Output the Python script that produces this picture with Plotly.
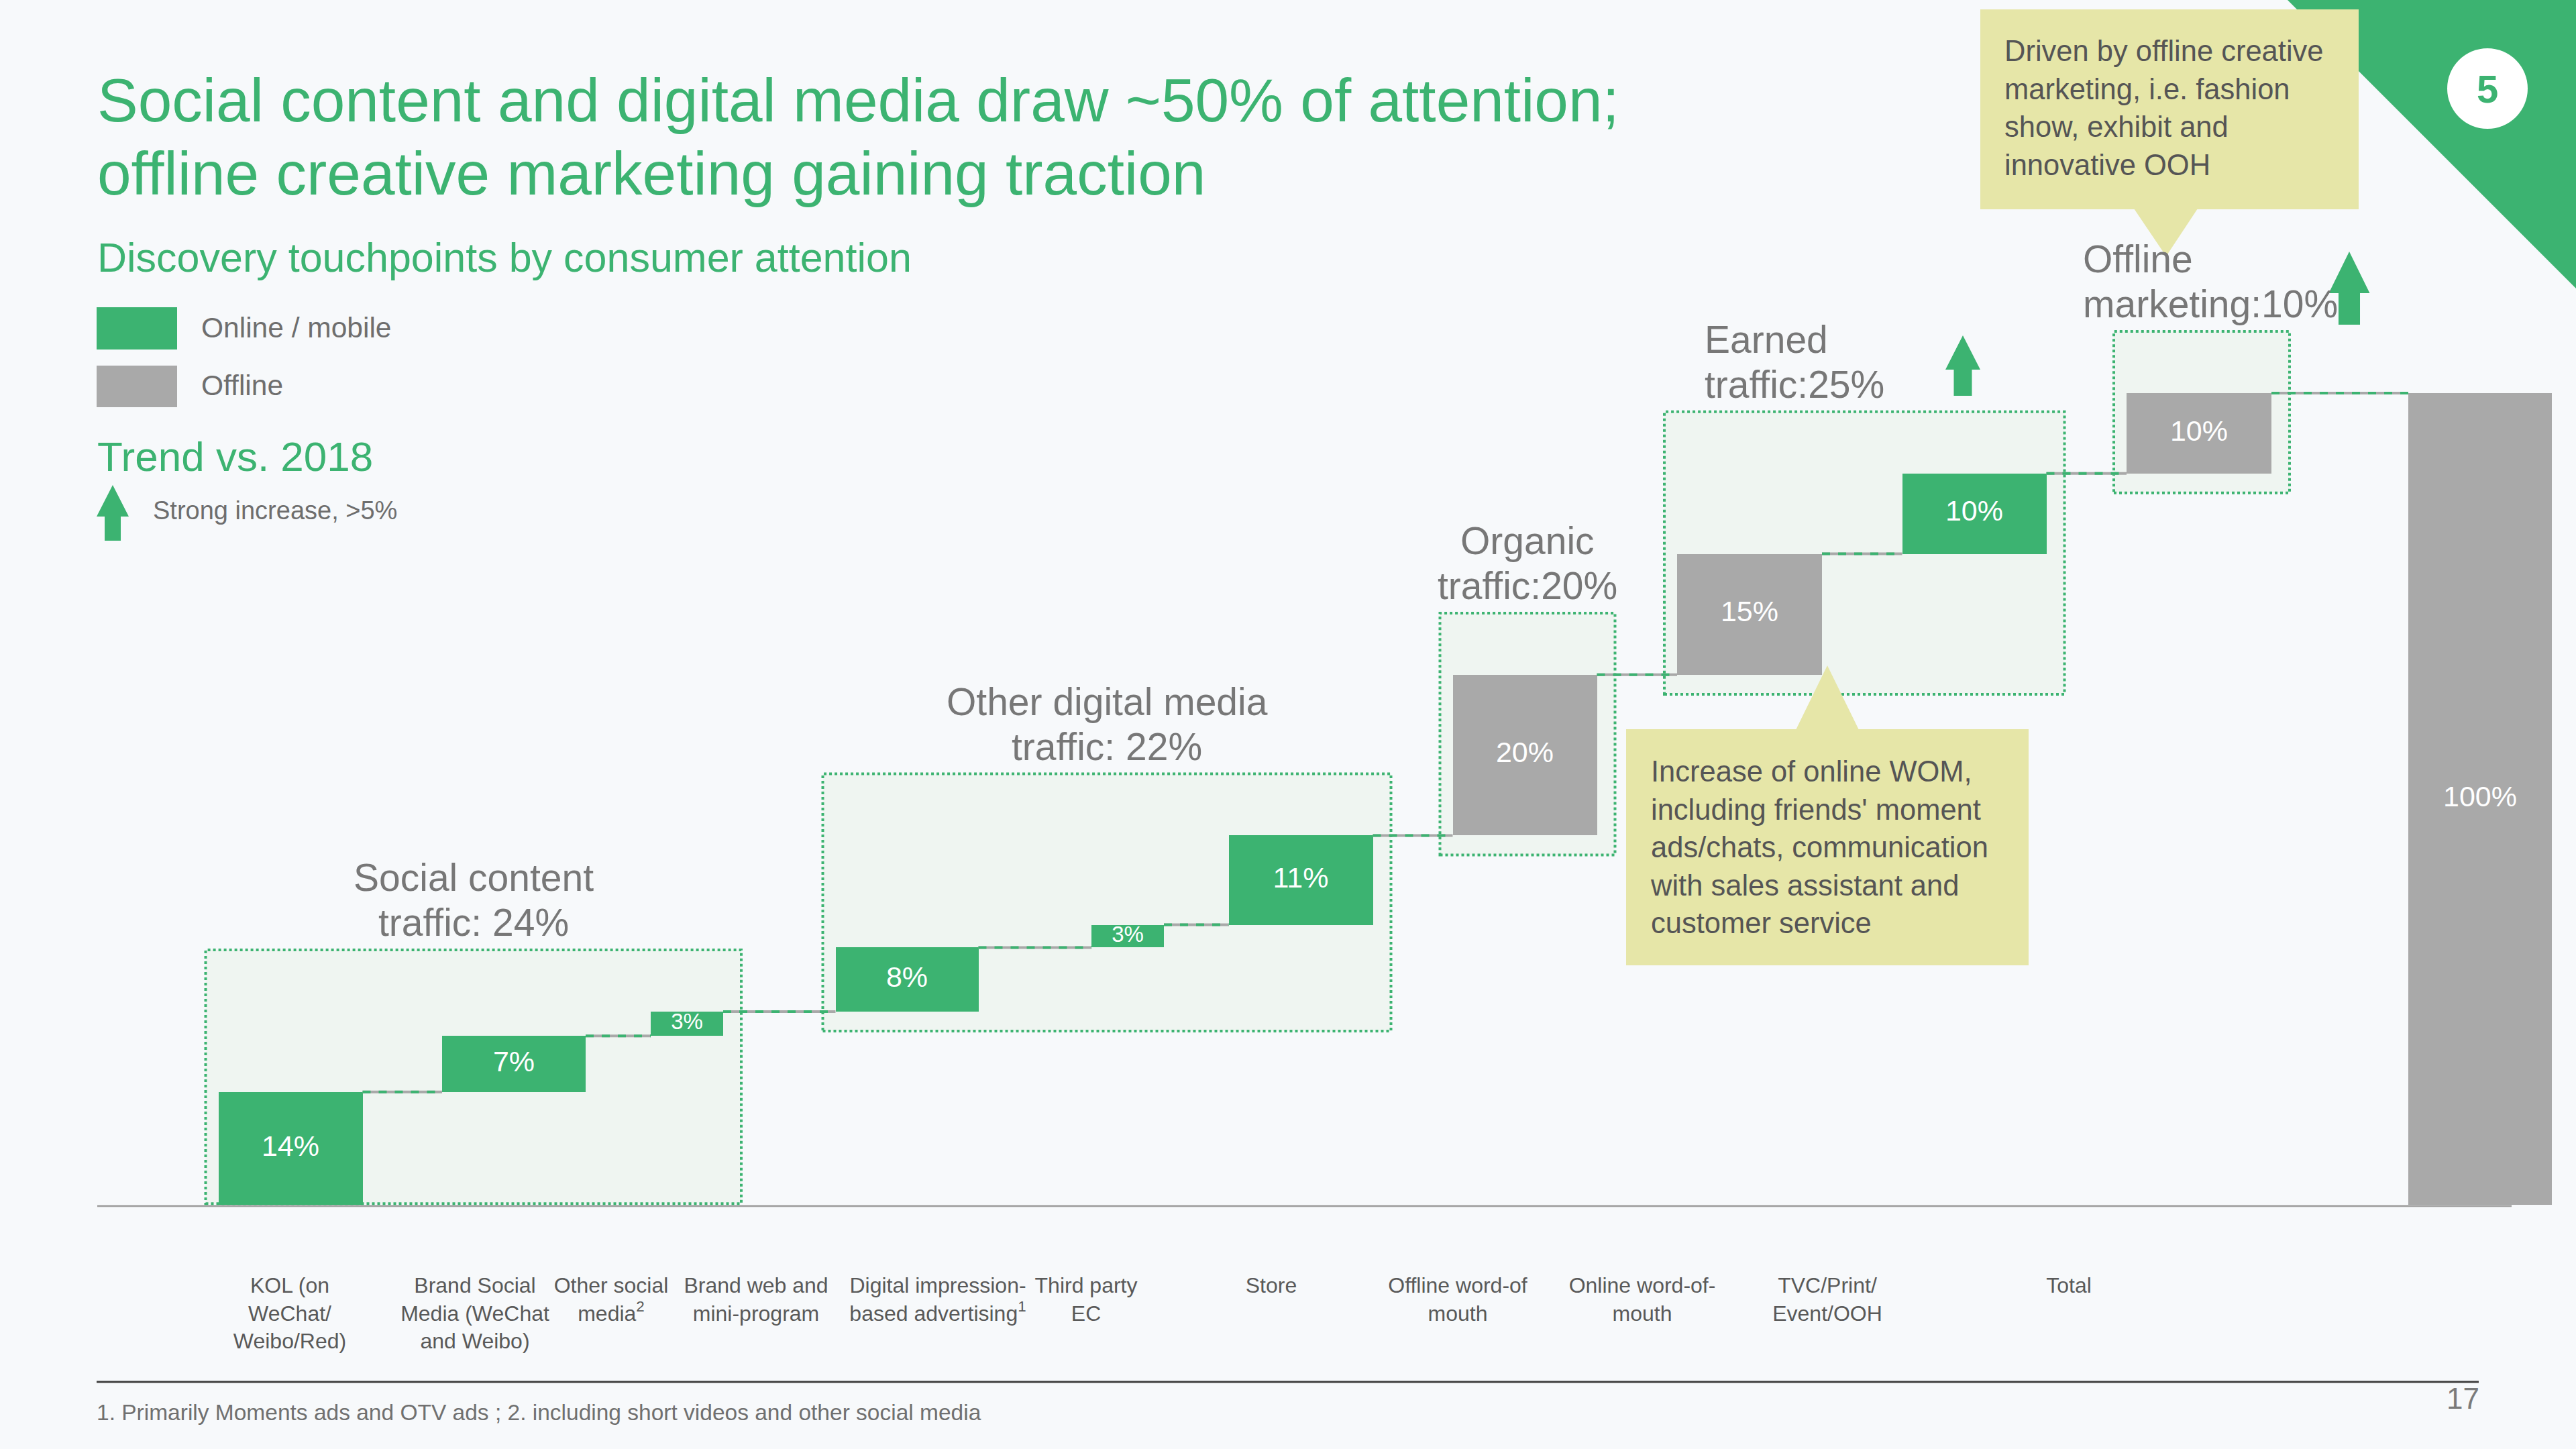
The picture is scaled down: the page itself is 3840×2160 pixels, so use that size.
import plotly.graph_objects as go

# ---------------- data ----------------
categories = [
    "KOL (on<br>WeChat/<br>Weibo/Red)",
    "Brand Social<br>Media (WeChat<br>and Weibo)",
    "Other social<br>media<sup>2</sup>",
    "Brand web and<br>mini-program",
    "Digital impression-<br>based advertising<sup>1</sup>",
    "Third party<br>EC",
    "Store",
    "Offline word-of<br>mouth",
    "Online word-of-<br>mouth",
    "TVC/Print/<br>Event/OOH",
    "Total",
]
shares = [13.9, 6.9, 3.0, 7.9, 2.8, 11.0, 19.8, 14.9, 9.9, 9.9]   # % of consumer attention
total_share = 100
channel_type = ["online", "online", "online", "online", "online", "online",
                "offline", "offline", "online", "offline"]
group_names = [("Social content", "traffic: {}%"),
               ("Other digital media", "traffic: {}%"),
               ("Organic", "traffic:{}%"),
               ("Earned", "traffic:{}%"),
               ("Offline", "marketing:{}%")]
group_members = [[0, 1, 2], [3, 4, 5], [6], [7, 8], [9]]

title_lines = ["Social content and digital media draw ~50% of attention;",
               "offline creative marketing gaining traction"]
subtitle = "Discovery touchpoints by consumer attention"
legend_labels = ["Online / mobile", "Offline"]
callout_offline = "Driven by offline creative<br>marketing, i.e. fashion<br>show, exhibit and<br>innovative OOH"
callout_wom = ("Increase of online WOM,<br>including friends' moment<br>ads/chats, communication"
               "<br>with sales assistant and<br>customer service")
footnote = "1. Primarily Moments ads and OTV ads ; 2. including short videos and other social media"
page_no = "17"
section_no = "5"

# ---------------- layout (positions in layout units = px) ----------------
bar_center = [433, 766, 1024, 1352, 1681, 1939, 2273, 2608, 2943, 3278, 3697]
bar_width = [215, 214, 108, 213, 108, 215, 215, 216, 215, 216, 214]
label_x = [432, 708, 911, 1127, 1398, 1619, 1895, 2173, 2448, 2724, 3084]
group_label_align = ["center", "center", "center", "left", "left"]
group_label_left = [None, None, None, 2539, 3103]

W, H = 3840, 2160
PLOT_H = 1800
Y0_PX = 1796
PX_PER_UNIT = 12.1
YMIN = (Y0_PX - PLOT_H) / PX_PER_UNIT
YMAX = Y0_PX / PX_PER_UNIT

GREEN = "#3CB371"
GRAY = "#A9A9A9"
BOX_FILL = "#EFF5F1"
BG = "#F7F9FB"
CALLOUT = "#E6E6A8"
FONT = "Arial, Liberation Sans, Helvetica, sans-serif"


def px(x):
    return x / W


def py(y):
    return (PLOT_H - y) / PLOT_H


def v2px(v):
    return Y0_PX - v * PX_PER_UNIT


def center_from_baseline(baseline, fs):
    return baseline - 0.3465 * fs


# ---------------- derived waterfall geometry ----------------
vals = shares + [total_share]
types = channel_type + ["total"]
bases = []
run = 0.0
for v in shares:
    bases.append(run)
    run += v
bases.append(0.0)
tops = [b + v for b, v in zip(bases, vals)]
color_map = {"online": GREEN, "offline": GRAY, "total": GRAY}

fig = go.Figure()

fig.add_trace(go.Bar(
    x=bar_center, y=vals, base=bases, width=bar_width,
    marker=dict(color=[color_map[t] for t in types], line=dict(width=0)),
    hoverinfo="skip", showlegend=False,
))

cx, cy = [], []
for i in range(len(vals) - 1):
    x0 = bar_center[i] + bar_width[i] / 2
    x1 = bar_center[i + 1] - bar_width[i + 1] / 2
    cx += [x0, x1, None]
    cy += [tops[i], tops[i], None]
fig.add_trace(go.Scatter(x=cx, y=cy, mode="lines", line=dict(color=GRAY, width=4),
                         hoverinfo="skip", showlegend=False))
fig.add_trace(go.Scatter(x=cx, y=cy, mode="lines",
                         line=dict(color=GREEN, width=4, dash="12px,12px"),
                         hoverinfo="skip", showlegend=False))

fig.add_trace(go.Scatter(
    x=bar_center, y=[b + v / 2 for b, v in zip(bases, vals)], mode="text",
    text=[f"{round(v)}%" for v in vals],
    textfont=dict(color="white", family=FONT, size=[33 if w < 150 else 43 for w in bar_width]),
    hoverinfo="skip", showlegend=False,
))

shapes = []
annotations = []

# baseline
shapes.append(dict(type="line", xref="x", yref="y", x0=145, x1=3744, y0=-0.15, y1=-0.15,
                   line=dict(color="#A6A6A6", width=3), layer="below"))

# group boxes and labels
PAD_L, PAD_R, PAD_T, PAD_B = 19, 27, 7.6, 2.4
for gi, members in enumerate(group_members):
    f, l = members[0], members[-1]
    x0 = bar_center[f] - bar_width[f] / 2 - PAD_L
    x1 = bar_center[l] + bar_width[l] / 2 + PAD_R
    y0 = max(bases[f] - PAD_B, 0.15)
    y1 = tops[l] + PAD_T
    shapes.append(dict(type="rect", xref="x", yref="y", x0=x0, x1=x1, y0=y0, y1=y1,
                       fillcolor=BOX_FILL, line=dict(color=GREEN, width=4, dash="dot"),
                       layer="below"))
    total = sum(round(vals[m]) for m in members)
    line1, fmt = group_names[gi]
    line2 = fmt.format(total)
    base2 = v2px(y1) - 21
    base1 = base2 - 67
    if group_label_align[gi] == "center":
        ax, xa = (x0 + x1) / 2, "center"
    else:
        ax, xa = group_label_left[gi], "left"
    for txt, bl in ((line1, base1), (line2, base2)):
        annotations.append(dict(text=txt, xref="x", yref="paper", x=ax,
                                y=py(center_from_baseline(bl, 57)), xanchor=xa, yanchor="middle",
                                showarrow=False, font=dict(family=FONT, size=57, color="#777777")))


def arrow_path(cxp, top, bottom, head_w, head_h, stem_w):
    pts = [(cxp, top), (cxp + head_w / 2, top + head_h), (cxp + stem_w / 2, top + head_h),
           (cxp + stem_w / 2, bottom), (cxp - stem_w / 2, bottom), (cxp - stem_w / 2, top + head_h),
           (cxp - head_w / 2, top + head_h)]
    return "M " + " L ".join(f"{px(a):.5f},{py(b):.5f}" for a, b in pts) + " Z"


def poly_path(pts):
    return "M " + " L ".join(f"{px(a):.5f},{py(b):.5f}" for a, b in pts) + " Z"


# corner decoration
shapes.append(dict(type="path", xref="paper", yref="paper",
                   path=poly_path([(3410, 0), (3840, 0), (3840, 430)]),
                   fillcolor=GREEN, line=dict(width=0), layer="above"))
shapes.append(dict(type="circle", xref="paper", yref="paper", x0=px(3648), x1=px(3768),
                   y0=py(192), y1=py(72), fillcolor="white", line=dict(width=0), layer="above"))
annotations.append(dict(text=f"<b>{section_no}</b>", xref="paper", yref="paper", x=px(3708),
                        y=py(132), xanchor="center", yanchor="middle", showarrow=False,
                        font=dict(family=FONT, size=58, color=GREEN)))

# callouts
shapes.append(dict(type="rect", xref="paper", yref="paper", x0=px(2952), x1=px(3516),
                   y0=py(312), y1=py(14), fillcolor=CALLOUT, line=dict(width=0), layer="above"))
shapes.append(dict(type="path", xref="paper", yref="paper",
                   path=poly_path([(3181, 311), (3276, 311), (3229, 382)]),
                   fillcolor=CALLOUT, line=dict(width=0), layer="above"))
annotations.append(dict(text=callout_offline, xref="paper", yref="paper", x=px(2986),
                        y=py(90 - 0.905 * 43.5 - 1), xanchor="left", yanchor="top", align="left",
                        showarrow=False, font=dict(family=FONT, size=43.5, color="#555555")))

shapes.append(dict(type="rect", xref="paper", yref="paper", x0=px(2424), x1=px(3024),
                   y0=py(1439), y1=py(1087), fillcolor=CALLOUT, line=dict(width=0), layer="above"))
shapes.append(dict(type="path", xref="paper", yref="paper",
                   path=poly_path([(2677, 1088), (2771, 1088), (2724, 992)]),
                   fillcolor=CALLOUT, line=dict(width=0), layer="above"))
annotations.append(dict(text=callout_wom, xref="paper", yref="paper", x=px(2458),
                        y=py(1164 - 0.905 * 43.5 - 1), xanchor="left", yanchor="top", align="left",
                        showarrow=False, font=dict(family=FONT, size=43.5, color="#555555")))

# trend arrows
shapes.append(dict(type="path", xref="paper", yref="paper",
                   path=arrow_path(2926, 500, 590, 52, 51, 27),
                   fillcolor=GREEN, line=dict(width=0), layer="above"))
shapes.append(dict(type="path", xref="paper", yref="paper",
                   path=arrow_path(3502, 375, 484, 61, 62, 32),
                   fillcolor=GREEN, line=dict(width=0), layer="above"))

# title & subtitle
for txt, bl in zip(title_lines, (181, 290)):
    annotations.append(dict(text=txt, xref="paper", yref="paper", x=px(143),
                            y=py(center_from_baseline(bl, 91)), xanchor="left", yanchor="middle",
                            showarrow=False, font=dict(family=FONT, size=91, color=GREEN)))
annotations.append(dict(text=subtitle, xref="paper", yref="paper", x=px(143),
                        y=py(center_from_baseline(405, 61)), xanchor="left", yanchor="middle",
                        showarrow=False, font=dict(family=FONT, size=61, color=GREEN)))

# legend
shapes.append(dict(type="rect", xref="paper", yref="paper", x0=px(144), x1=px(264),
                   y0=py(521), y1=py(458), fillcolor=GREEN, line=dict(width=0), layer="above"))
shapes.append(dict(type="rect", xref="paper", yref="paper", x0=px(144), x1=px(264),
                   y0=py(607), y1=py(545), fillcolor=GRAY, line=dict(width=0), layer="above"))
for txt, bl in zip(legend_labels, (503, 589)):
    annotations.append(dict(text=txt, xref="paper", yref="paper", x=px(298),
                            y=py(center_from_baseline(bl, 42.5)), xanchor="left", yanchor="middle",
                            showarrow=False, font=dict(family=FONT, size=42.5, color="#6E6E6E")))
annotations.append(dict(text="Trend vs. 2018", xref="paper", yref="paper", x=px(143),
                        y=py(center_from_baseline(702, 62)), xanchor="left", yanchor="middle",
                        showarrow=False, font=dict(family=FONT, size=62, color=GREEN)))
shapes.append(dict(type="path", xref="paper", yref="paper",
                   path=arrow_path(168, 723, 806, 48, 47, 24),
                   fillcolor=GREEN, line=dict(width=0), layer="above"))
annotations.append(dict(text="Strong increase, >5%", xref="paper", yref="paper", x=px(226),
                        y=py(center_from_baseline(774, 38)), xanchor="left", yanchor="middle",
                        showarrow=False, font=dict(family=FONT, size=38, color="#6E6E6E")))

# footer
shapes.append(dict(type="line", xref="paper", yref="paper", x0=px(144), x1=px(3695),
                   y0=py(2060), y1=py(2060), line=dict(color="#404040", width=3)))
annotations.append(dict(text=footnote, xref="paper", yref="paper", x=px(142),
                        y=py(center_from_baseline(2117, 33.5)), xanchor="left", yanchor="middle",
                        showarrow=False, font=dict(family=FONT, size=33.5, color="#707070")))
annotations.append(dict(text=page_no, xref="paper", yref="paper", x=px(3698),
                        y=py(center_from_baseline(2100, 44)), xanchor="right", yanchor="middle",
                        showarrow=False, font=dict(family=FONT, size=44, color="#7A7A7A")))

fig.update_layout(
    template="none",
    width=W, height=H, autosize=False,
    margin=dict(l=0, r=0, t=0, b=H - PLOT_H, pad=0),
    paper_bgcolor=BG, plot_bgcolor="rgba(0,0,0,0)",
    showlegend=False,
    shapes=shapes, annotations=annotations,
    xaxis=dict(range=[0, W], domain=[0, 1], showgrid=False, zeroline=False, showline=False,
               ticks="", tickmode="array", tickvals=label_x, ticktext=categories, tickangle=0,
               tickfont=dict(family=FONT, size=32, color="#595959"), ticklabelstandoff=94,
               fixedrange=True, automargin=False),
    yaxis=dict(range=[YMIN, YMAX], domain=[0, 1], visible=False, fixedrange=True),
    bargap=0,
)

fig.write_html("out.html")
